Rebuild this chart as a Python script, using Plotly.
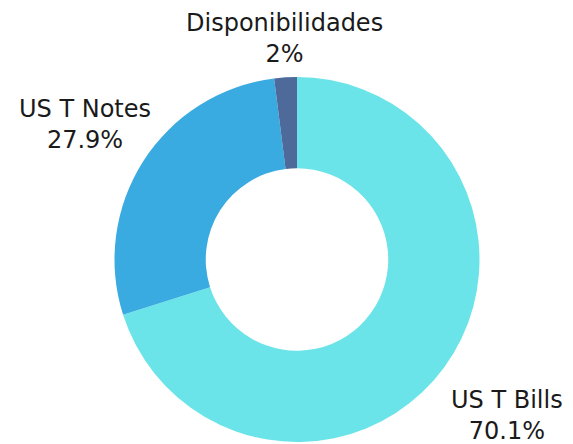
import plotly.graph_objects as go

labels = ["US T Bills", "US T Notes", "Disponibilidades"]
values = [70.1, 27.9, 2.0]
colors = ["#6AE4E8", "#3AABE0", "#4D6A9A"]

# label anchor positions (paper coords) for the outside labels
label_pos = {
    "US T Bills": (0.8709, 0.0833),
    "US T Notes": (0.1344, 0.7365),
    "Disponibilidades": (0.4817, 0.9302),
}

total = sum(values)

fig = go.Figure(go.Pie(
    labels=labels,
    values=values,
    marker=dict(colors=colors, line=dict(width=0)),
    hole=0.5,
    sort=False,
    direction="clockwise",
    rotation=0,
    textinfo="none",
    hoverinfo="label+percent",
    showlegend=False,
    domain=dict(x=[106 / 573, 472 / 573], y=[10 / 444, 375 / 444]),
))

for lab, val in zip(labels, values):
    x, y = label_pos[lab]
    pct = f"{val / total * 100:.3g}%"
    fig.add_annotation(
        x=x, y=y, xref="paper", yref="paper",
        xanchor="center", yanchor="middle",
        text=f"{lab}<br>{pct}", showarrow=False,
        font=dict(family="DejaVu Sans", size=24, color="#1a1a1a"),
    )

fig.update_layout(
    width=573, height=444,
    margin=dict(l=0, r=0, t=0, b=0),
    paper_bgcolor="white",
    plot_bgcolor="white",
)
fig.write_html("out.html")
